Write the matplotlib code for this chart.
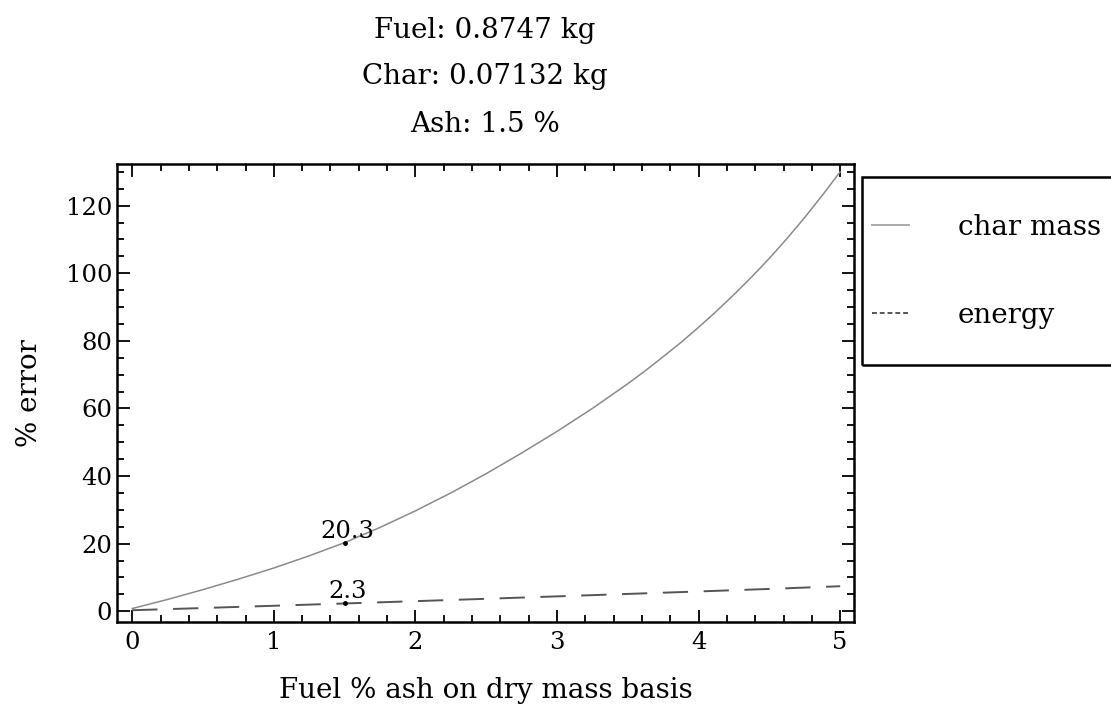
import matplotlib
matplotlib.use("Agg")
import matplotlib.pyplot as plt
from matplotlib.lines import Line2D
from matplotlib.patches import Rectangle
from matplotlib.ticker import MultipleLocator

plt.rcParams['font.family'] = ['DejaVu Serif']

# values
char_x = [0.0, 0.25, 0.5, 0.75, 1.0, 1.25, 1.5, 1.75, 2.0, 2.25, 2.5,
          2.75, 3.0, 3.25, 3.5, 3.625, 3.75, 3.875, 4.0, 4.125, 4.25,
          4.375, 4.5, 4.625, 4.75, 4.875, 5.0]
char_mass_err = [0.8, 3.5, 6.4, 9.5, 12.8, 16.4, 20.3, 24.8, 29.7, 35.0, 40.7,
                 46.8, 53.2, 60.0, 67.3, 71.2, 75.3, 79.5, 84.0, 88.7, 93.7,
                 98.9, 104.4, 110.3, 116.5, 123.1, 130.0]
energy_x = [0.0, 0.5, 1.0, 1.5, 2.0, 2.5, 3.0, 3.5, 4.0, 4.5, 5.0]
energy_err = [0.3, 0.95, 1.62, 2.3, 2.98, 3.68, 4.4, 5.12, 5.85, 6.6, 7.4]

marker_x = 1.5
marker_vals = [20.3, 2.3]
title_lines = ["Fuel: 0.8747 kg", "Char: 0.07132 kg", "Ash: 1.5 %"]
legend_labels = ["char mass", "energy"]

fs = 20      # labels, title, legend
fs_tick = 17.5

fig = plt.figure(figsize=(11.11, 7.21), dpi=100)
ax = fig.add_axes([0.1053, 0.1377, 0.6634, 0.6348])

ax.plot(char_x, char_mass_err, color='#8a8a8a', lw=1.1)
ax.plot(energy_x, energy_err, color='#555555', lw=1.4, dashes=(13, 8))

for v in marker_vals:
    ax.plot(marker_x, v, 'o', color='black', ms=2.5)
    ax.annotate(f"{v}", (marker_x, v), xytext=(2, 0), textcoords='offset points',
                ha='center', va='bottom', fontsize=fs_tick)

ax.set_xlim(-0.108, 5.098)
ax.set_ylim(-3.1, 132.3)
ax.xaxis.set_major_locator(MultipleLocator(1))
ax.xaxis.set_minor_locator(MultipleLocator(0.2))
ax.yaxis.set_major_locator(MultipleLocator(20))
ax.yaxis.set_minor_locator(MultipleLocator(5))
ax.tick_params(which='both', direction='in', top=True, right=True, width=1.3,
               labelsize=fs_tick)
ax.tick_params(which='major', length=9)
ax.tick_params(which='minor', length=5)
ax.tick_params(axis='x', pad=7)
for s in ax.spines.values():
    s.set_linewidth(1.8)

ax.set_xlabel("Fuel % ash on dry mass basis", fontsize=fs, labelpad=16)
ax.set_ylabel("% error", fontsize=fs, labelpad=16)

for i, line in enumerate(title_lines):
    fig.text(0.4365, 1 - (30 + 47 * i) / 721, line, ha='center', va='center',
             fontsize=fs)

# legend box runs off the right edge like the original
fig.patches.append(Rectangle((862 / 1111, 1 - 365 / 721), 0.3, 188 / 721,
                             transform=fig.transFigure, fill=False,
                             edgecolor='black', lw=1.8))
handles = [Line2D([], [], color='#aaaaaa', lw=1.4),
           Line2D([], [], color='#555555', lw=1.4, dashes=(2.5, 1.5))]
fig.legend(handles, legend_labels, loc='upper left', frameon=False,
           bbox_to_anchor=(858 / 1111, 1 - 200 / 721), fontsize=fs,
           handlelength=1.35, handletextpad=1.75, labelspacing=2.2,
           borderpad=0)

fig.savefig("out.png", dpi=100)
